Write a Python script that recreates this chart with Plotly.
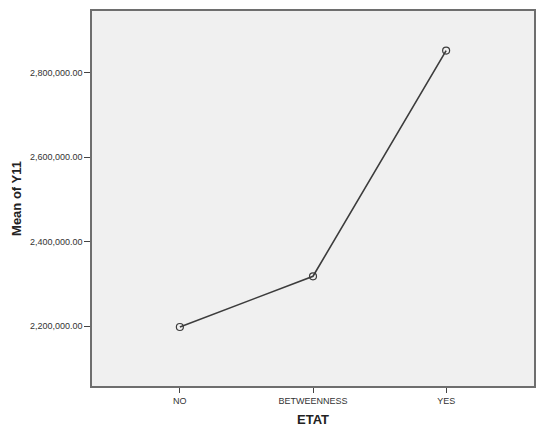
import plotly.graph_objects as go

etat = ["NO", "BETWEENNESS", "YES"]
mean_y11 = [2198000, 2318000, 2852000]
y_ticks = [2200000, 2400000, 2600000, 2800000]

fig = go.Figure()

fig.add_trace(
    go.Scatter(
        x=etat,
        y=mean_y11,
        mode="lines+markers",
        line=dict(color="#3c3c3c", width=1.6),
        marker=dict(symbol="circle-open", size=7, color="#3c3c3c", line=dict(width=1.2)),
        showlegend=False
    )
)

fig.update_layout(
    width=550,
    height=434,
    margin=dict(l=92, r=16, t=9, b=47),
    paper_bgcolor="white",
    plot_bgcolor="#f0f0f0",
    font=dict(family="Liberation Sans, Arial, sans-serif", color="#333333"),
    xaxis=dict(
        type="category",
        range=[-0.66, 2.66],
        showgrid=False,
        zeroline=False,
        showline=True,
        linecolor="#6e6e6e",
        linewidth=1.5,
        mirror=True,
        ticks="outside",
        ticklen=5,
        tickcolor="#444444",
        tickfont=dict(size=9, color="#333333"),
        title=dict(text="<b>ETAT</b>", font=dict(size=13, color="#222222"), standoff=10)
    ),
    yaxis=dict(
        range=[2058450, 2945540],
        tickvals=y_ticks,
        tickformat=",.2f",
        showgrid=False,
        zeroline=False,
        showline=True,
        linecolor="#6e6e6e",
        linewidth=1.5,
        mirror=True,
        ticks="outside",
        ticklen=6,
        tickcolor="#444444",
        tickfont=dict(size=9, color="#333333"),
        title=dict(text="<b>Mean of Y11</b>", font=dict(size=13, color="#222222"), standoff=5)
    )
)

# page margin would push the chart 8px off the window
fig.write_html(
    "out.html",
    config={"displayModeBar": False},
    post_script="document.body.style.margin='0';"
)
